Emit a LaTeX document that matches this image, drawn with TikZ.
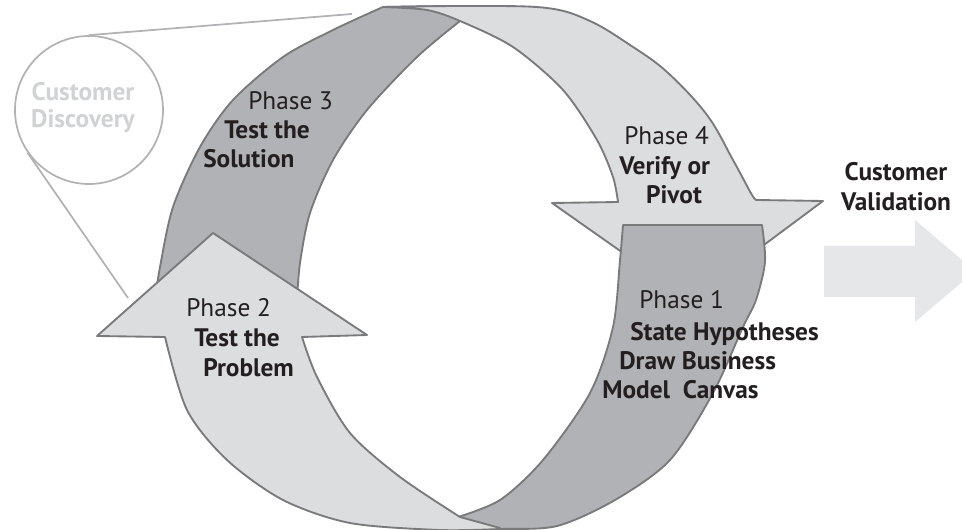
\documentclass[tikz,border=0pt]{standalone}
\usepackage{fontspec}
\setmainfont{PT Sans}
\usepackage{tikz}

\begin{document}
\begin{tikzpicture}[x=0.75pt,y=0.75pt,yscale=-1,
  edge/.style={draw={rgb, 255:red, 122; green, 122; blue, 125}, line width=1.4pt, line join=round},
  darkband/.style={edge, fill={rgb, 255:red, 177; green, 178; blue, 181}},
  lightband/.style={edge, fill={rgb, 255:red, 220; green, 221; blue, 223}},
  discline/.style={draw={rgb, 255:red, 178; green, 178; blue, 180}, line width=1.3pt},
  txt/.style={inner sep=0.75pt, font=\fontsize{19}{22}\selectfont, text={rgb, 255:red, 35; green, 31; blue, 32}},
  btxt/.style={txt, font=\fontsize{19}{22}\selectfont\bfseries}]
\clip (0,0) rectangle (962,530);

%Customer Discovery circle
\node [circle, discline, minimum size=111pt, inner sep=0pt] (disc) at (89,110) {};
\coordinate (discA) at (352,14);
\coordinate (discB) at (128,298);
\draw [discline] (disc.90) -- (discA);
\draw [discline] (disc.215) -- (discB);

%Customer Validation arrow
\fill [fill={rgb, 255:red, 230; green, 231; blue, 232}] (824,246) -- (915,246) -- (915,220) -- (975,271) -- (915,322) -- (915,297) -- (824,297) -- cycle;

%Phase 3 band
\draw [darkband] plot [smooth] coordinates {(155,300) (160,267) (173,207) (200,147) (233,100) (283,57) (333,30) (383,7)} -- (445,6) -- (462,20)
  -- plot [smooth] coordinates {(460,21) (417,57) (367,110) (333,160) (310,213) (300,263) (297,300)} -- cycle;

%Phase 4 arrow
\draw [lightband] plot [smooth, tension=0.6] coordinates {(383,7) (470,6) (547,8) (590,21) (630,45) (667,72) (707,115) (733,160) (752,195) (757,200)}
  -- (823,201) -- (690,300) -- (552,203) -- (618,202)
  -- plot [smooth] coordinates {(618,202) (613,177) (597,140) (563,90) (513,47) (460,21) (427,10) (383,7)} -- cycle;

%Phase 1 band
\draw [darkband] (623,225) -- (762,225)
  -- plot [smooth] coordinates {(762,225) (765,262) (756,300) (743,327) (713,393) (670,460) (615,500) (557,526) (500,529) (460,529)}
  -- plot [smooth] coordinates {(455,518) (500,500) (543,460) (590,393) (613,327) (620,260) (623,225)} -- cycle;

%Phase 2 arrow
\draw [lightband] (213,233) -- (367,335) -- (302,337)
  -- plot [smooth] coordinates {(302,337) (317,377) (350,433) (400,477) (460,517)} -- (500,528)
  -- plot [smooth] coordinates {(500,529) (440,530) (350,523) (283,500) (227,460) (187,410) (165,337)} -- (97,336) -- cycle;

% Text Node
\draw (83,101) node [anchor=base, btxt, text={rgb, 255:red, 209; green, 210; blue, 212}] (discl) {Customer};
% Text Node
\draw (83,128) node [anchor=base, btxt, text={rgb, 255:red, 209; green, 210; blue, 212}] (discm) {Discovery};
% Text Node
\draw (247,110) node [anchor=base west, txt] (ph3) {Phase 3};
% Text Node
\draw (223,139) node [anchor=base west, btxt] (ph3a) {Test the};
% Text Node
\draw (202,168) node [anchor=base west, btxt] (ph3b) {Solution};
% Text Node
\draw (623,145) node [anchor=base west, txt] (ph4) {Phase 4};
% Text Node
\draw (618,175) node [anchor=base west, btxt] (ph4a) {Verify or};
% Text Node
\draw (674,204) node [anchor=base, btxt] (ph4b) {Pivot};
% Text Node
\draw (896,181) node [anchor=base, btxt] (vala) {Customer};
% Text Node
\draw (896,211) node [anchor=base, btxt] (valb) {Validation};
% Text Node
\draw (185,317) node [anchor=base west, txt] (ph2) {Phase 2};
% Text Node
\draw (193,347) node [anchor=base west, btxt] (ph2a) {Test the};
% Text Node
\draw (202,376) node [anchor=base west, btxt] (ph2b) {Problem};
% Text Node
\draw (638,309) node [anchor=base west, txt] (ph1) {Phase 1};
% Text Node
\draw (629,340) node [anchor=base west, btxt] (ph1a) {State Hypotheses};
% Text Node
\draw (618,369) node [anchor=base west, btxt] (ph1b) {Draw Business};
% Text Node
\draw (601,398) node [anchor=base west, btxt] (ph1c) {Model\ \ Canvas};

\end{tikzpicture}
\end{document}
